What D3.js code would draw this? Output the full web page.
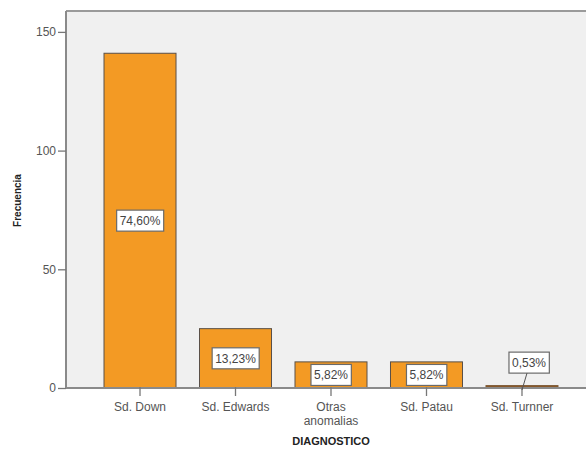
<!DOCTYPE html>
<html>
<head>
<meta charset="utf-8">
<script src="https://cdn.jsdelivr.net/npm/d3@7/dist/d3.min.js"></script>
<style>
  html, body { margin: 0; padding: 0; background: #ffffff; }
  svg { display: block; }
  text { font-family: "Liberation Sans", Arial, sans-serif; }
</style>
</head>
<body>
<svg id="chart" width="586" height="451"></svg>
<script>
// Diagnosis categories (multi-line labels split on "\n")
const categories = ["Sd. Down", "Sd. Edwards", "Otras\nanomalias", "Sd. Patau", "Sd. Turnner"];
// Frequency per diagnosis
const frequencies = [141, 25, 11, 11, 1];
// Percentage labels shown on each bar
const percentLabels = ["74,60%", "13,23%", "5,82%", "5,82%", "0,53%"];
// Y axis ticks
const yTicks = [0, 50, 100, 150];

const svg = d3.select("#chart");
const plot = { left: 66, top: 11, right: 596, bottom: 388 };

const x = d3.scaleBand()
  .domain(categories)
  .range([plot.left, plot.right])
  .paddingInner(0.246)
  .paddingOuter(0.398);

const y = d3.scaleLinear()
  .domain([0, 158.8])
  .range([plot.bottom, plot.top]);

// Plot background
svg.append("rect")
  .attr("x", plot.left).attr("y", plot.top)
  .attr("width", plot.right - plot.left).attr("height", plot.bottom - plot.top)
  .attr("fill", "#f0f0f0");

// Top frame line
svg.append("line")
  .attr("x1", plot.left).attr("x2", plot.right)
  .attr("y1", plot.top).attr("y2", plot.top)
  .attr("stroke", "#9a9a9a").attr("stroke-width", 2);

// Bars
const bars = svg.append("g");
categories.forEach((c, i) => {
  const v = frequencies[i];
  const small = y(0) - y(v) < 4;
  bars.append("rect")
    .attr("x", x(c))
    .attr("y", y(v))
    .attr("width", x.bandwidth())
    .attr("height", y(0) - y(v))
    .attr("fill", small ? "#8a5a2a" : "#f39a24")
    .attr("stroke", small ? "#7a5530" : "#5a5048")
    .attr("stroke-width", 1);
});

// Y axis
const yAxis = svg.append("g")
  .attr("transform", `translate(${plot.left},0)`)
  .call(d3.axisLeft(y).tickValues(yTicks).tickSize(8).tickPadding(2).tickFormat(d3.format("d")));
yAxis.select(".domain").attr("stroke", "#8a8a8a").attr("stroke-width", 2)
  .attr("d", `M0,${plot.top}V${plot.bottom}`);
yAxis.selectAll(".tick line").attr("stroke", "#777").attr("stroke-width", 1.3);
yAxis.selectAll(".tick text").attr("fill", "#555").attr("font-size", 12)
  .style("font-family", "'Liberation Sans', Arial, sans-serif");

// X axis
const xAxis = svg.append("g")
  .attr("transform", `translate(0,${plot.bottom})`)
  .call(d3.axisBottom(x).tickSize(8).tickPadding(6).tickFormat(""));
xAxis.select(".domain").attr("stroke", "#8a8a8a").attr("stroke-width", 2)
  .attr("d", `M${plot.left},0H${plot.right}`);
xAxis.selectAll(".tick line").attr("stroke", "#777").attr("stroke-width", 1.3)
  .attr("y1", -1);
xAxis.selectAll(".tick").each(function(d) {
  const lines = d.split("\n");
  const t = d3.select(this).append("text")
    .attr("fill", "#555").attr("font-size", 12)
    .attr("text-anchor", "middle")
    .style("font-family", "'Liberation Sans', Arial, sans-serif");
  lines.forEach((ln, k) => {
    t.append("tspan").attr("x", 0).attr("y", 23 + k * 14).text(ln);
  });
});

// Percentage labels
const labels = svg.append("g");
categories.forEach((c, i) => {
  const v = frequencies[i];
  const cx = x(c) + x.bandwidth() / 2;
  const barH = y(0) - y(v);
  let cy = y(v) + barH / 2;
  let lx = cx;
  const outside = barH < 20;
  if (outside) { cy = y(v) - 23; lx = cx + 7; }
  const g = labels.append("g");
  const txt = g.append("text")
    .attr("x", lx).attr("y", cy + 4.5)
    .attr("text-anchor", "middle")
    .attr("font-size", 12)
    .attr("fill", "#444")
    .text(percentLabels[i]);
  const bb = txt.node().getBBox();
  g.insert("rect", "text")
    .attr("x", bb.x - 3).attr("y", cy - 10.5)
    .attr("width", bb.width + 6).attr("height", 21)
    .attr("fill", "#ffffff").attr("stroke", "#6a6a6a").attr("stroke-width", 1.2);
  if (outside) {
    g.append("line")
      .attr("x1", lx - 2).attr("y1", cy + 10.5)
      .attr("x2", cx).attr("y2", y(0) + 2)
      .attr("stroke", "#555").attr("stroke-width", 1);
  }
});

// Axis titles
svg.append("text")
  .attr("x", (plot.left + plot.right) / 2).attr("y", 445)
  .attr("text-anchor", "middle")
  .attr("font-size", 11).attr("font-weight", "bold").attr("fill", "#222")
  .text("DIAGNOSTICO");

svg.append("text")
  .attr("transform", `translate(21,${(plot.top + plot.bottom) / 2 + 1}) rotate(-90)`)
  .attr("text-anchor", "middle")
  .attr("font-size", 10).attr("font-weight", "bold").attr("fill", "#222")
  .text("Frecuencia");
</script>
</body>
</html>
